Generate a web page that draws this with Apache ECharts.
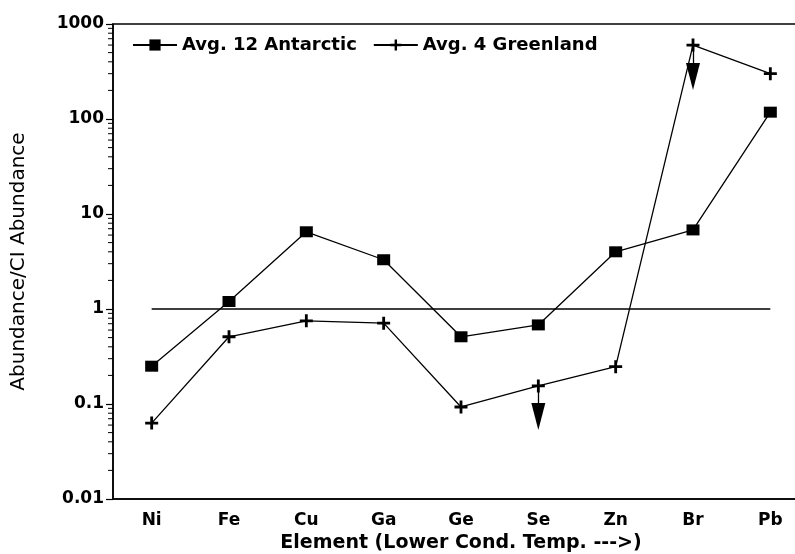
<!DOCTYPE html>
<html>
<head>
<meta charset="utf-8">
<script src="https://cdn.jsdelivr.net/npm/echarts@6/dist/echarts.min.js"></script>
<style>html,body{margin:0;padding:0;background:#fff;overflow:hidden}#c{width:795px;height:554px}</style>
</head>
<body>
<div id="c"></div>
<script>
const categories = ['Ni', 'Fe', 'Cu', 'Ga', 'Ge', 'Se', 'Zn', 'Br', 'Pb'];
const antarctic = [0.25, 1.2, 6.5, 3.3, 0.51, 0.68, 4.0, 6.8, 118];
const greenland = [0.063, 0.51, 0.75, 0.71, 0.093, 0.155, 0.247, 600, 300];
const ciLine = [1, 1, 1, 1, 1, 1, 1, 1, 1];
const yTicks = [0.01, 0.1, 1, 10, 100, 1000];
// upper-limit arrows: [category, from value, arrow centre value]
const upperLimits = [['Se', 0.155, 0.074], ['Br', 600, 280]];

// minor log ticks (2..9 per decade) – axis decoration
const minorTicks = [];
for (let d = 0; d < yTicks.length - 1; d++) {
  for (let m = 2; m <= 9; m++) minorTicks.push(['Ni', m * yTicks[d]]);
}

const F = 'DejaVu Sans';
const plus = 'path://M-1.3,-6 L1.3,-6 L1.3,-1.3 L6,-1.3 L6,1.3 L1.3,1.3 L1.3,6 L-1.3,6 L-1.3,1.3 L-6,1.3 L-6,-1.3 L-1.3,-1.3 Z';

const chart = echarts.init(document.getElementById('c'), null, {renderer: 'canvas'});
chart.setOption({
  animation: false,
  backgroundColor: '#fff',
  grid: {left: 113, top: 24, bottom: 55, right: -14, outerBoundsMode: 'none', containLabel: false,
    show: true, borderColor: '#000', borderWidth: 1.5, backgroundColor: 'transparent'},
  legend: {
    left: 127, top: 31, itemWidth: 44, itemHeight: 14, itemGap: 16,
    data: ['Avg. 12 Antarctic', 'Avg. 4 Greenland'],
    textStyle: {fontFamily: F, fontWeight: 'bold', fontSize: 18, color: '#000'}
  },
  xAxis: {
    type: 'category', data: categories, boundaryGap: true,
    name: 'Element (Lower Cond. Temp. --->)', nameLocation: 'middle', nameGap: 32,
    nameTextStyle: {fontFamily: F, fontWeight: 'bold', fontSize: 19, color: '#000'},
    axisLine: {lineStyle: {color: '#000', width: 1.5}},
    axisTick: {alignWithLabel: true, length: 6, lineStyle: {color: '#000', width: 1.2}},
    axisLabel: {fontFamily: F, fontWeight: 'bold', fontSize: 17, color: '#000', margin: 13},
    splitLine: {show: false}
  },
  yAxis: {
    type: 'log', logBase: 10, min: 0.01, max: 1000,
    name: 'Abundance/CI Abundance', nameLocation: 'middle', nameGap: 84,
    nameTextStyle: {fontFamily: F, fontSize: 20, color: '#000'},
    axisLine: {show: true, lineStyle: {color: '#000', width: 1.5}},
    axisTick: {show: true, length: 7, lineStyle: {color: '#000', width: 1.2}},
    axisLabel: {fontFamily: F, fontWeight: 'bold', fontSize: 17, color: '#000', margin: 9,
      formatter: v => String(v)},
    splitLine: {show: false}
  },
  series: [
    {
      name: 'CI', type: 'line', data: ciLine, symbol: 'none', silent: true,
      lineStyle: {color: '#000', width: 1.3}
    },
    {
      name: 'Avg. 12 Antarctic', type: 'line', data: antarctic,
      symbol: 'rect', symbolSize: [13, 11],
      itemStyle: {color: '#000'}, lineStyle: {color: '#000', width: 1.3}
    },
    {
      name: 'Avg. 4 Greenland', type: 'line', data: greenland,
      symbol: plus, symbolSize: 13,
      itemStyle: {color: '#000'}, lineStyle: {color: '#000', width: 1.3},
      markLine: {
        silent: true, animation: false,
        symbol: ['none', 'triangle'], symbolSize: [14, 27],
        label: {show: false},
        lineStyle: {color: '#000', width: 1.3, type: 'solid'},
        itemStyle: {color: '#000'},
        data: upperLimits.map(u => [{coord: [u[0], u[1]]}, {coord: [u[0], u[2]]}])
      }
    },
    {
      name: 'minor', type: 'custom', data: minorTicks, clip: false, silent: true,
      encode: {x: 0, y: 1},
      renderItem: (params, api) => {
        const p = api.coord([api.value(0), api.value(1)]);
        const x = params.coordSys.x;
        return {type: 'line', shape: {x1: x - 5, y1: p[1], x2: x, y2: p[1]},
          style: {stroke: '#000', lineWidth: 1}};
      }
    }
  ]
});
</script>
</body>
</html>
